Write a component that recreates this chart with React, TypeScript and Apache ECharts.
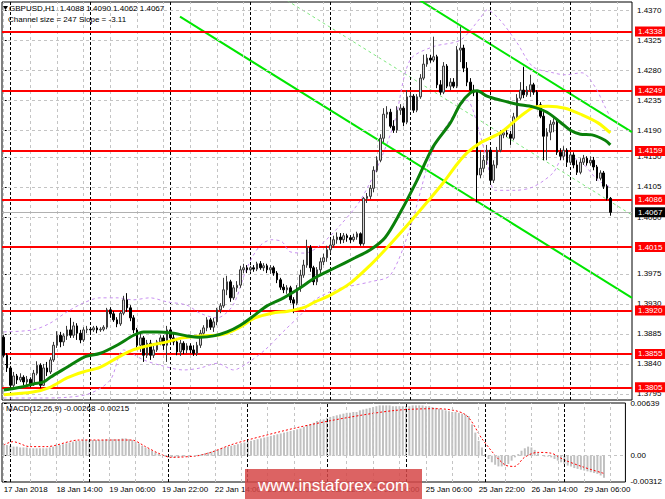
import React, { useEffect, useRef } from 'react';
import * as echarts from 'echarts';

const FONT = "'Liberation Sans', Arial, sans-serif";

// ---- time axis ----
const TRADING_DAYS = ['17 Jan', '18 Jan', '19 Jan', '22 Jan', '23 Jan', '24 Jan', '25 Jan', '26 Jan', '29 Jan'];
const FIRST_HOUR = 22;
const LAST_HOUR = 12;
const FUTURE_BARS = 6;
const FIRST_LABEL = '17 Jan 2018';
const LABEL_STEP = 16;
const GRID_STEP = 8;

// ---- price data [open, close, low, high] ----
const CANDLES = [
  [1.3880,1.3853,1.3850,1.3883],[1.3853,1.3834,1.3828,1.3856],[1.3834,1.3808,1.3802,1.3837],[1.3808,1.3822,1.3805,1.3828],
  [1.3822,1.3816,1.3810,1.3825],[1.3816,1.3820,1.3813,1.3826],[1.3820,1.3813,1.3808,1.3823],[1.3813,1.3817,1.3807,1.3822],
  [1.3817,1.3810,1.3805,1.3820],[1.3810,1.3826,1.3807,1.3831],[1.3826,1.3838,1.3823,1.3844],[1.3838,1.3808,1.3804,1.3841],
  [1.3808,1.3834,1.3807,1.3840],[1.3834,1.3828,1.3822,1.3843],[1.3828,1.3846,1.3825,1.3850],[1.3846,1.3868,1.3843,1.3873],
  [1.3868,1.3883,1.3864,1.3889],[1.3883,1.3873,1.3865,1.3888],[1.3873,1.3882,1.3867,1.3886],[1.3882,1.3891,1.3876,1.3897],
  [1.3891,1.3883,1.3879,1.3909],[1.3883,1.3897,1.3879,1.3903],[1.3897,1.3886,1.3876,1.3901],[1.3886,1.3876,1.3871,1.3891],
  [1.3876,1.3891,1.3873,1.3895],[1.3891,1.3892,1.3886,1.3897],[1.3892,1.3891,1.3886,1.3895],[1.3891,1.3894,1.3888,1.3897],
  [1.3894,1.3891,1.3886,1.3897],[1.3891,1.3892,1.3888,1.3895],[1.3892,1.3895,1.3889,1.3898],[1.3895,1.3921,1.3892,1.3924],
  [1.3921,1.3915,1.3909,1.3925],[1.3915,1.3906,1.3903,1.3919],[1.3906,1.3900,1.3895,1.3910],[1.3900,1.3916,1.3897,1.3919],
  [1.3916,1.3936,1.3913,1.3942],[1.3936,1.3924,1.3918,1.3946],[1.3924,1.3909,1.3904,1.3928],[1.3909,1.3891,1.3886,1.3913],
  [1.3891,1.3868,1.3861,1.3894],[1.3868,1.3879,1.3858,1.3885],[1.3879,1.3853,1.3843,1.3882],[1.3853,1.3871,1.3849,1.3876],
  [1.3871,1.3853,1.3846,1.3876],[1.3853,1.3861,1.3849,1.3868],[1.3861,1.3873,1.3858,1.3876],[1.3873,1.3879,1.3868,1.3883],
  [1.3879,1.3868,1.3861,1.3883],[1.3868,1.3891,1.3843,1.3897],[1.3891,1.3879,1.3874,1.3895],[1.3879,1.3873,1.3868,1.3885],
  [1.3873,1.3858,1.3853,1.3879],[1.3858,1.3871,1.3852,1.3876],[1.3871,1.3861,1.3855,1.3874],[1.3861,1.3867,1.3856,1.3871],
  [1.3867,1.3861,1.3856,1.3871],[1.3861,1.3856,1.3852,1.3868],[1.3856,1.3868,1.3852,1.3873],[1.3868,1.3886,1.3864,1.3891],
  [1.3886,1.3894,1.3882,1.3898],[1.3894,1.3906,1.3889,1.3910],[1.3906,1.3895,1.3891,1.3909],[1.3895,1.3903,1.3888,1.3909],
  [1.3903,1.3921,1.3898,1.3924],[1.3921,1.3927,1.3916,1.3931],[1.3927,1.3951,1.3924,1.3969],[1.3951,1.3963,1.3943,1.3972],
  [1.3963,1.3939,1.3933,1.3966],[1.3939,1.3954,1.3936,1.3958],[1.3954,1.3958,1.3948,1.3964],[1.3958,1.3981,1.3954,1.3987],
  [1.3981,1.3984,1.3976,1.3990],[1.3984,1.3981,1.3976,1.3988],[1.3981,1.3984,1.3978,1.3987],[1.3984,1.3982,1.3978,1.3988],
  [1.3982,1.3990,1.3979,1.3993],[1.3990,1.3984,1.3981,1.3994],[1.3984,1.3987,1.3979,1.3991],[1.3987,1.3981,1.3976,1.3990],
  [1.3981,1.3984,1.3975,1.3988],[1.3984,1.3976,1.3972,1.3987],[1.3976,1.3966,1.3961,1.3979],[1.3966,1.3955,1.3951,1.3969],
  [1.3955,1.3951,1.3946,1.3960],[1.3951,1.3954,1.3945,1.3958],[1.3954,1.3936,1.3931,1.3957],[1.3936,1.3931,1.3916,1.3940],
  [1.3931,1.3954,1.3928,1.3958],[1.3954,1.3973,1.3948,1.3981],[1.3973,1.3988,1.3969,1.3996],[1.3988,1.4014,1.3984,1.4026],
  [1.4014,1.3984,1.3978,1.4018],[1.3984,1.3963,1.3958,1.3987],[1.3963,1.3981,1.3958,1.3985],[1.3981,1.3993,1.3976,1.3999],
  [1.3993,1.3999,1.3988,1.4005],[1.3999,1.4011,1.3993,1.4017],[1.4011,1.4018,1.4006,1.4026],[1.4018,1.4026,1.4014,1.4032],
  [1.4026,1.4030,1.4020,1.4037],[1.4030,1.4026,1.4020,1.4036],[1.4026,1.4032,1.4021,1.4036],[1.4032,1.4029,1.4023,1.4035],
  [1.4029,1.4026,1.4021,1.4033],[1.4026,1.4030,1.4023,1.4035],[1.4030,1.4035,1.4026,1.4038],[1.4035,1.4020,1.4017,1.4037],
  [1.4020,1.4088,1.4017,1.4090],[1.4088,1.4091,1.4081,1.4096],[1.4091,1.4103,1.4087,1.4108],[1.4103,1.4130,1.4097,1.4136],
  [1.4130,1.4145,1.4127,1.4151],[1.4145,1.4178,1.4142,1.4184],[1.4178,1.4214,1.4172,1.4223],[1.4214,1.4217,1.4208,1.4226],
  [1.4217,1.4196,1.4193,1.4222],[1.4196,1.4190,1.4186,1.4205],[1.4190,1.4220,1.4186,1.4226],[1.4220,1.4223,1.4213,1.4229],
  [1.4223,1.4202,1.4196,1.4226],[1.4202,1.4240,1.4199,1.4250],[1.4240,1.4241,1.4220,1.4247],[1.4241,1.4220,1.4216,1.4244],
  [1.4220,1.4240,1.4217,1.4244],[1.4240,1.4268,1.4237,1.4274],[1.4268,1.4289,1.4265,1.4303],[1.4289,1.4298,1.4285,1.4304],
  [1.4298,1.4295,1.4291,1.4303],[1.4295,1.4300,1.4292,1.4330],[1.4300,1.4258,1.4253,1.4303],[1.4258,1.4247,1.4243,1.4265],
  [1.4247,1.4286,1.4244,1.4292],[1.4286,1.4256,1.4253,1.4289],[1.4256,1.4262,1.4250,1.4268],[1.4262,1.4256,1.4253,1.4268],
  [1.4256,1.4310,1.4253,1.4316],[1.4310,1.4313,1.4292,1.4345],[1.4313,1.4283,1.4277,1.4318],[1.4283,1.4262,1.4256,1.4292],
  [1.4262,1.4250,1.4246,1.4268],[1.4250,1.4247,1.4241,1.4258],[1.4247,1.4123,1.4082,1.4250],[1.4123,1.4133,1.4118,1.4160],
  [1.4133,1.4145,1.4127,1.4153],[1.4145,1.4160,1.4138,1.4168],[1.4160,1.4115,1.4111,1.4163],[1.4115,1.4138,1.4111,1.4145],
  [1.4138,1.4160,1.4133,1.4165],[1.4160,1.4183,1.4157,1.4190],[1.4183,1.4186,1.4178,1.4190],[1.4186,1.4184,1.4180,1.4190],
  [1.4184,1.4178,1.4168,1.4189],[1.4178,1.4210,1.4175,1.4216],[1.4210,1.4238,1.4205,1.4244],[1.4238,1.4250,1.4235,1.4262],
  [1.4250,1.4243,1.4238,1.4285],[1.4243,1.4250,1.4240,1.4256],[1.4250,1.4258,1.4240,1.4273],[1.4258,1.4247,1.4243,1.4261],
  [1.4247,1.4228,1.4225,1.4250],[1.4228,1.4211,1.4208,1.4232],[1.4211,1.4181,1.4145,1.4217],[1.4181,1.4187,1.4145,1.4193],
  [1.4187,1.4199,1.4175,1.4205],[1.4199,1.4202,1.4187,1.4208],[1.4202,1.4157,1.4153,1.4205],[1.4157,1.4151,1.4145,1.4163],
  [1.4151,1.4160,1.4145,1.4166],[1.4160,1.4142,1.4135,1.4163],[1.4142,1.4153,1.4138,1.4157],[1.4153,1.4138,1.4133,1.4157],
  [1.4138,1.4127,1.4123,1.4145],[1.4127,1.4142,1.4124,1.4148],[1.4142,1.4148,1.4138,1.4153],[1.4148,1.4141,1.4137,1.4151],
  [1.4141,1.4145,1.4137,1.4151],[1.4145,1.4135,1.4130,1.4150],[1.4135,1.4118,1.4114,1.4138],[1.4118,1.4126,1.4115,1.4130],
  [1.4126,1.4106,1.4102,1.4129],[1.4106,1.4088,1.4085,1.4109],[1.4088,1.4067,1.4062,1.4090],
];

// ---- moving averages [bar, price] ----
const GREEN_MA = [
  [0,1.3801],[5,1.3805],[9,1.3810],[12,1.3813],[14,1.3820],[19,1.3835],[24,1.3850],[29,1.3856],[34,1.3868],[39,1.3883],
  [42,1.3888],[46,1.3888],[51,1.3886],[55,1.3882],[59,1.3880],[63,1.3882],[67,1.3888],[71,1.3898],[75,1.3912],[79,1.3927],
  [84,1.3939],[89,1.3954],[93.4,1.3969],[99.4,1.3984],[105.4,1.3999],[110,1.4011],[114.4,1.4029],[118.9,1.4066],[124,1.4115],
  [128.8,1.4165],[134,1.4201],[137,1.4229],[140,1.4246],[142,1.4249],[145,1.4241],[149,1.4235],[154,1.4229],[158.8,1.4225],
  [163,1.4217],[167,1.4202],[170,1.4190],[173,1.4184],[176.5,1.4183],[180.4,1.4175],[182,1.4168],
];
const YELLOW_MA = [
  [0,1.3794],[8.8,1.3798],[13.9,1.3805],[19,1.3819],[23.8,1.3828],[28.9,1.3835],[34,1.3849],[38.8,1.3861],[43.9,1.3868],
  [49,1.3873],[53.7,1.3879],[58.9,1.3882],[64,1.3883],[67,1.3886],[70.9,1.3895],[75.4,1.3909],[80.5,1.3916],[85.3,1.3919],
  [90.4,1.3925],[93.4,1.3933],[98,1.3943],[104,1.3961],[110,1.3988],[115,1.4014],[122,1.4053],[127,1.4082],[132,1.4112],
  [136,1.4139],[139,1.4156],[143,1.4171],[149,1.4186],[153.4,1.4204],[156.4,1.4216],[159.4,1.4225],[163.3,1.4226],
  [168.4,1.4223],[173.5,1.4213],[178.3,1.4201],[182,1.4186],
];
const BAND_UPPER = [
  [0,1.3888],[8.8,1.3891],[13.9,1.3901],[19,1.3918],[23.8,1.3931],[28.9,1.3939],[34,1.3939],[38.8,1.3936],[43.9,1.3939],
  [49,1.3933],[55,1.3928],[58.9,1.3916],[64,1.3909],[68.8,1.3928],[73,1.3984],[76.9,1.4017],[80.5,1.4026],[83.5,1.4023],
  [85.9,1.4008],[90.4,1.4006],[95,1.4018],[101,1.4048],[107,1.4085],[113,1.4145],[117.4,1.4205],[121.9,1.4295],[128.8,1.4315],
  [137,1.4325],[143,1.4358],[145,1.4370],[148.9,1.4355],[154,1.4321],[158.8,1.4285],[164.8,1.4276],[168.4,1.4273],
  [173.5,1.4276],[177.4,1.4255],[180.4,1.4225],[182,1.4210],
];
const BAND_LOWER = [
  [0,1.3789],[11,1.3789],[19,1.3790],[26,1.3796],[32,1.3816],[36,1.3861],[42,1.3846],[47,1.3838],[54,1.3831],[59,1.3834],
  [64,1.3841],[69,1.3831],[73,1.3841],[78.4,1.3861],[84.4,1.3891],[89,1.3913],[93.4,1.3936],[99.4,1.3951],[105.4,1.3958],
  [110,1.3963],[116,1.3973],[122,1.4045],[128.8,1.4160],[136,1.4220],[139,1.4235],[140.8,1.4220],[145,1.4145],[147.4,1.4100],
  [153.4,1.4100],[158.8,1.4105],[164.8,1.4126],[168.4,1.4153],[173.5,1.4141],[178.3,1.4115],[182,1.4105],
];

// ---- regression channel ----
const CHANNEL_UPPER = [[52.9,1.4608],[188.5,1.4187]];
const CHANNEL_MID = [[52.9,1.4484],[188.5,1.4063]];
const CHANNEL_LOWER = [[52.9,1.4360],[188.5,1.3939]];
const CHANNEL_TEXT = 'Channel size = 247 Slope = -3.11';

// ---- levels & ticks ----
const LEVELS = [1.4338, 1.4249, 1.4159, 1.4086, 1.4015, 1.3920, 1.3855, 1.3805];
const CURRENT_PRICE = 1.4067;
const PRICE_TICKS = [1.3795, 1.3840, 1.3885, 1.3930, 1.3975, 1.4015, 1.4060, 1.4105, 1.4150, 1.4190, 1.4235, 1.4280, 1.4325, 1.4370];
const PRICE_MIN = 1.3786;
const PRICE_MAX = 1.4382;

// ---- MACD ----
const MACD_MAIN = [
  0.0013,0.0013,0.0012,0.0011,0.0011,
  0.0010,0.0010,0.0010,0.0009,0.0009,0.0009,0.0009,0.0009,0.0009,
  0.0010,0.0011,0.0012,0.0013,0.0014,0.0015,0.0016,0.0017,0.0018,0.0018,0.0019,0.0019,
  0.0019,0.0019,0.0019,0.0019,0.0019,0.0020,0.0020,0.0020,0.0020,0.0020,0.0021,0.0021,0.0020,0.0019,
  0.0017,0.0015,0.0012,0.0010,0.0008,0.0006,0.0004,0.0002,
  0.0000,-0.0001,-0.0002,-0.0002,-0.0002,
  -0.0002,-0.0001,-0.0001,-0.0001,0.0000,0.0000,
  0.0001,0.0002,0.0003,0.0004,0.0005,0.0006,0.0007,0.0009,0.0010,
  0.0011,0.0012,0.0013,0.0014,0.0015,0.0016,0.0017,0.0018,
  0.0019,0.0020,0.0021,0.0022,0.0023,0.0024,0.0025,0.0026,0.0027,0.0028,0.0029,0.0030,0.0031,0.0032,
  0.0033,0.0035,0.0037,0.0038,0.0040,0.0042,0.0043,0.0044,0.0046,0.0047,0.0048,0.0049,0.0050,0.0051,0.0052,0.0052,0.0053,0.0053,
  0.0055,0.0056,0.0057,0.0058,0.0059,0.0060,0.0061,0.0061,0.0061,0.0061,0.0060,0.0060,0.0060,0.0060,0.0060,0.0060,0.0061,0.0061,
  0.0061,0.0061,0.0060,0.0060,0.0059,0.0058,0.0057,0.0056,0.0055,0.0054,0.0053,0.0053,0.0052,0.0051,0.0050,0.0048,
  0.0038,0.0028,0.0018,0.0010,0.0002,-0.0004,-0.0008,-0.0011,
  -0.0013,-0.0013,-0.0012,-0.0010,-0.0006,-0.0002,0.0002,
  0.0006,0.0009,0.0011,0.0010,
  0.0007,0.0003,0.0000,-0.0001,-0.0001,-0.0002,
  -0.0004,-0.0006,-0.0008,-0.0010,-0.0012,-0.0013,-0.0015,-0.0016,-0.0017,-0.0018,-0.0019,-0.0020,-0.0021,-0.0022,-0.0024,-0.00268,
];
const MACD_SIGNAL = [
  [0,0.0013],[2.8,0.0017],[7.9,0.0011],[13,0.0011],[22.9,0.0019],[38.8,0.0019],[43,0.0011],[46.9,0.0003],[50.8,-0.0002],
  [58.9,0.0000],[62.8,0.0004],[68.8,0.0013],[73.9,0.0019],[88.9,0.0034],[103.9,0.0046],[118.9,0.0055],[130.9,0.0057],
  [139.9,0.0050],[145.3,0.0019],[151.9,-0.0011],[154.9,-0.0013],[157.9,-0.0002],[161.8,0.0004],[166,0.0003],[169.9,-0.0005],
  [175.9,-0.0014],[182,-0.00215],
];
const MACD_TICKS = [-0.00312, 0, 0.00639];
const MACD_TICK_LABELS = ['-0.00312', '0.00', '0.00639'];
const MACD_MIN = -0.00319;
const MACD_MAX = 0.00639;
const MACD_TITLE = 'MACD(12,26,9) -0.00268 -0.00215';
const SYMBOL = 'GBPUSD,H1';
const WATERMARK = 'www.instaforex.com';

function buildCategories() {
  const cats: string[] = [];
  TRADING_DAYS.forEach((d, di) => {
    const start = di === 0 ? FIRST_HOUR : 0;
    const end = di === TRADING_DAYS.length - 1 ? LAST_HOUR + FUTURE_BARS : 23;
    for (let h = start; h <= end; h++) cats.push(`${d} ${String(h).padStart(2, '0')}:00`);
  });
  return cats;
}

export default function App() {
  const ref = useRef<HTMLDivElement>(null);
  useEffect(() => {
    document.body.style.margin = '0';
    const chart = echarts.init(ref.current!, undefined, { renderer: 'svg' });
    const cats = buildCategories();
    const n = cats.length;
    const nBars = CANDLES.length;
    const gridIdx: number[] = [];
    const dayIdx: number[] = [];
    for (let i = 0; i < n; i++) {
      if (i % GRID_STEP === 0) gridIdx.push(i);
      if (cats[i].endsWith(' 00:00')) dayIdx.push(i);
    }
    const last = CANDLES[nBars - 1];
    const header = `${SYMBOL}  ${last[0].toFixed(4)} ${last[3].toFixed(4)} ${last[2].toFixed(4)} ${last[1].toFixed(4)}`;
    const gridLine = { color: '#c4c4c4', width: 1, type: [3, 3] };
    const dayLine = { color: '#000', width: 1, type: [3, 2] };
    const vLines = (data: any[]) => [
      ...gridIdx.filter((i) => dayIdx.indexOf(i) < 0).map((i) => ({ xAxis: i, lineStyle: gridLine })),
      ...dayIdx.map((i) => ({ xAxis: i, lineStyle: dayLine })),
      ...data,
    ];
    const levelLabel = (bg: string) => ({
      show: true, position: 'end', distance: 3, color: '#fff', backgroundColor: bg,
      padding: [1, 3, 0, 3], fontSize: 8, fontFamily: FONT, lineHeight: 9,
      formatter: (p: any) => Number(p.value).toFixed(4),
    });
    const option: any = {
      animation: false,
      backgroundColor: '#ffffff',
      textStyle: { fontFamily: FONT },
      grid: [
        { left: 2, top: 2, width: 630, height: 398, show: true, borderColor: '#000', borderWidth: 1, backgroundColor: 'transparent' },
        { left: 2, top: 403, width: 630, height: 79, show: true, borderColor: '#000', borderWidth: 1, backgroundColor: 'transparent' },
      ],
      xAxis: [
        { type: 'category', gridIndex: 0, data: cats, boundaryGap: true, axisLine: { show: false }, axisTick: { show: false }, axisLabel: { show: false }, splitLine: { show: false } },
        { type: 'value', gridIndex: 0, min: -0.5, max: n - 0.5, show: false },
        {
          type: 'category', gridIndex: 1, data: cats, boundaryGap: true, axisLine: { show: false }, axisTick: { show: false }, splitLine: { show: false },
          axisLabel: {
            interval: (i: number) => i % LABEL_STEP === 0 && i < nBars,
            formatter: (v: string, i: number) => (i === 0 ? FIRST_LABEL : v),
            fontSize: 8, fontFamily: FONT, color: '#000', align: 'left', margin: 3,
          },
        },
        { type: 'value', gridIndex: 1, min: -0.5, max: n - 0.5, show: false },
      ],
      yAxis: [
        {
          type: 'value', gridIndex: 0, position: 'right', min: PRICE_MIN, max: PRICE_MAX,
          axisLine: { show: false }, splitLine: { show: false },
          axisTick: { show: true, customValues: PRICE_TICKS, length: 3, lineStyle: { color: '#000' } },
          axisLabel: { customValues: PRICE_TICKS, formatter: (v: number) => v.toFixed(4), fontSize: 8, fontFamily: FONT, color: '#000', margin: 5 },
        },
        {
          type: 'value', gridIndex: 1, position: 'right', min: MACD_MIN, max: MACD_MAX,
          axisLine: { show: false }, splitLine: { show: false },
          axisTick: { show: true, customValues: MACD_TICKS, length: 3, lineStyle: { color: '#000' } },
          axisLabel: {
            customValues: MACD_TICKS,
            formatter: (v: number) => MACD_TICK_LABELS[MACD_TICKS.findIndex((t) => Math.abs(t - v) < 1e-7)] ?? '',
            fontSize: 8, fontFamily: FONT, color: '#000', margin: 5,
          },
        },
      ],
      series: [
        {
          name: 'grid', type: 'line', xAxisIndex: 1, yAxisIndex: 0, data: [], z: 1, silent: true,
          markLine: {
            silent: true, symbol: ['none', 'none'], label: { show: false }, animation: false, precision: 6,
            data: vLines(PRICE_TICKS.map((v) => ({ yAxis: v, lineStyle: gridLine }))),
          },
        },
        {
          name: 'macdGrid', type: 'line', xAxisIndex: 3, yAxisIndex: 1, data: [], z: 1, silent: true,
          markLine: {
            silent: true, symbol: ['none', 'none'], label: { show: false }, animation: false, precision: 6,
            data: vLines([{ yAxis: 0, lineStyle: gridLine }]),
          },
        },
        {
          name: 'levels', type: 'line', xAxisIndex: 1, yAxisIndex: 0, data: [], z: 3, silent: true,
          markLine: {
            silent: true, symbol: ['none', 'none'], animation: false, precision: 6,
            data: [
              { yAxis: CURRENT_PRICE, lineStyle: { color: '#b0b0b0', width: 1, type: 'solid' }, label: levelLabel('#000') },
              ...LEVELS.map((v) => ({ yAxis: v, lineStyle: { color: '#ff0000', width: 2, type: 'solid' }, label: levelLabel('#ff0000') })),
            ],
          },
        },
        {
          name: 'channelUpper', type: 'line', xAxisIndex: 1, yAxisIndex: 0, data: CHANNEL_UPPER, showSymbol: false, z: 4, silent: true,
          lineStyle: { color: '#00e600', width: 2 },
        },
        {
          name: 'channelLower', type: 'line', xAxisIndex: 1, yAxisIndex: 0, data: CHANNEL_LOWER, showSymbol: false, z: 4, silent: true,
          lineStyle: { color: '#00e600', width: 2 },
        },
        {
          name: 'channelMid', type: 'line', xAxisIndex: 1, yAxisIndex: 0, data: CHANNEL_MID, showSymbol: false, z: 4, silent: true,
          lineStyle: { color: '#7fe87f', width: 1, type: [3, 3] },
        },
        {
          name: 'bandUpper', type: 'line', xAxisIndex: 1, yAxisIndex: 0, data: BAND_UPPER, showSymbol: false, smooth: 0.3, z: 5, silent: true,
          lineStyle: { color: '#c890f0', width: 1, type: [3, 3] },
        },
        {
          name: 'bandLower', type: 'line', xAxisIndex: 1, yAxisIndex: 0, data: BAND_LOWER, showSymbol: false, smooth: 0.3, z: 5, silent: true,
          lineStyle: { color: '#c890f0', width: 1, type: [3, 3] },
        },
        {
          name: 'GBPUSD', type: 'candlestick', xAxisIndex: 0, yAxisIndex: 0, data: CANDLES, z: 6, barWidth: '65%',
          itemStyle: { color: '#d4d4d4', color0: '#000000', borderColor: '#3a3a3a', borderColor0: '#000000', borderWidth: 1 },
        },
        {
          name: 'yellowMA', type: 'line', xAxisIndex: 1, yAxisIndex: 0, data: YELLOW_MA, showSymbol: false, smooth: 0.3, z: 7, silent: true,
          lineStyle: { color: '#ffff00', width: 3 },
        },
        {
          name: 'greenMA', type: 'line', xAxisIndex: 1, yAxisIndex: 0, data: GREEN_MA, showSymbol: false, smooth: 0.3, z: 8, silent: true,
          lineStyle: { color: '#0a800a', width: 3 },
        },
        {
          name: 'MACD', type: 'bar', xAxisIndex: 2, yAxisIndex: 1, data: MACD_MAIN, barWidth: '60%', z: 3, silent: true,
          itemStyle: { color: '#c0c0c0' },
        },
        {
          name: 'Signal', type: 'line', xAxisIndex: 3, yAxisIndex: 1, data: MACD_SIGNAL, showSymbol: false, smooth: 0.3, z: 4, silent: true,
          lineStyle: { color: '#ff0000', width: 1, type: [2, 2] },
        },
      ],
      graphic: [
        { type: 'polygon', shape: { points: [[3, 6], [8, 6], [5.5, 10]] }, style: { fill: '#000' }, z: 20 },
        { type: 'text', x: 9, y: 8.5, style: { text: header, fill: '#000', font: `8px ${FONT}`, textVerticalAlign: 'middle' }, z: 20 },
        { type: 'text', x: 8, y: 19, style: { text: CHANNEL_TEXT, fill: '#000', font: `8px ${FONT}`, textVerticalAlign: 'middle' }, z: 20 },
        { type: 'text', x: 6, y: 408, style: { text: MACD_TITLE, fill: '#000', font: `8px ${FONT}`, textVerticalAlign: 'middle' }, z: 20 },
        { type: 'rect', shape: { x: 245, y: 469, width: 177, height: 30 }, style: { fill: 'rgba(214, 72, 72, 0.85)' }, z: 30 },
        { type: 'text', x: 333.5, y: 485, style: { text: WATERMARK, fill: '#fff', font: `17px ${FONT}`, textAlign: 'center', textVerticalAlign: 'middle' }, z: 31 },
      ],
    };
    chart.setOption(option);
    return () => chart.dispose();
  }, []);
  return <div ref={ref} style={{ width: 665, height: 499 }} />;
}
